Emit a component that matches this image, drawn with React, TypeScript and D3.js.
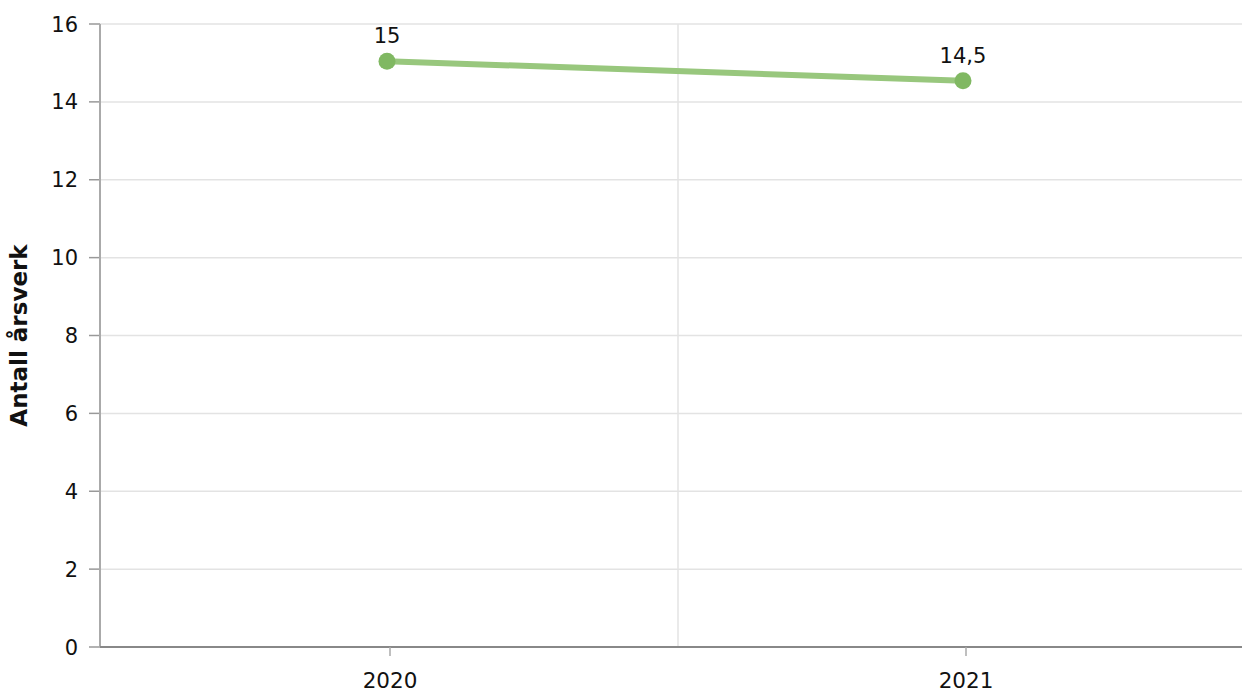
import React from "react";
import * as d3 from "d3";

const categories = ["2020", "2021"];
const values = [15, 14.5];
const valueLabels = ["15", "14,5"];
const yTicks = [0, 2, 4, 6, 8, 10, 12, 14, 16];
const yTitle = "Antall årsverk";

const W = 1242;
const H = 693;
const FONT = "Verdana, 'DejaVu Sans', sans-serif";

export default function App() {
  const left = 100;
  const top = 24;
  const bottom = 647;
  const x = d3.scaleBand<string>().domain(categories).range([102, 1254]);
  const y = d3.scaleLinear().domain([0, 16]).range([bottom, top]);
  const cx = (c: string) => (x(c) as number) + x.bandwidth() / 2;
  const line = d3
    .line<number>()
    .x((_, i) => cx(categories[i]))
    .y((d) => y(d));
  const boundaries = categories.slice(1).map((c) => x(c) as number);

  return (
    <svg
      width={W}
      height={H}
      style={{ position: "absolute", left: 0, top: 0, background: "#fff" }}
      fontFamily={FONT}
    >
      {yTicks.map((t) => (
        <g key={t}>
          {t > 0 && (
            <line x1={left} x2={W} y1={y(t)} y2={y(t)} stroke="#e3e3e3" strokeWidth={1.5} />
          )}
          <line x1={89} x2={left} y1={y(t)} y2={y(t)} stroke="#999" strokeWidth={1.5} />
          <text x={78} y={y(t)} dy="0.36em" textAnchor="end" fontSize={21} fill="#111">
            {t}
          </text>
        </g>
      ))}
      {boundaries.map((b, i) => (
        <line key={i} x1={b} x2={b} y1={top} y2={bottom} stroke="#e3e3e3" strokeWidth={1.5} />
      ))}
      <line x1={left} x2={left} y1={top} y2={bottom} stroke="#aaa" strokeWidth={2} />
      <line x1={left} x2={W} y1={bottom} y2={bottom} stroke="#888" strokeWidth={2} />
      {categories.map((c) => (
        <g key={c}>
          <line x1={cx(c)} x2={cx(c)} y1={bottom} y2={bottom + 9} stroke="#aaa" strokeWidth={1.5} />
          <text x={cx(c)} y={688} textAnchor="middle" fontSize={21.5} fill="#111">
            {c}
          </text>
        </g>
      ))}
      <g transform="translate(-3,-1.7)">
        <path d={line(values) || ""} fill="none" stroke="#98c77d" strokeWidth={6} strokeLinecap="round" />
        {values.map((v, i) => (
          <g key={i}>
            <circle cx={cx(categories[i])} cy={y(v)} r={8.5} fill="#80b862" />
            <text x={cx(categories[i])} y={y(v) - 18} textAnchor="middle" fontSize={21} fill="#111">
              {valueLabels[i]}
            </text>
          </g>
        ))}
      </g>
      <text
        transform={`translate(27, ${(top + bottom) / 2}) rotate(-90)`}
        textAnchor="middle"
        fontSize={23}
        fontWeight="bold"
        fill="#111"
      >
        {yTitle}
      </text>
    </svg>
  );
}
